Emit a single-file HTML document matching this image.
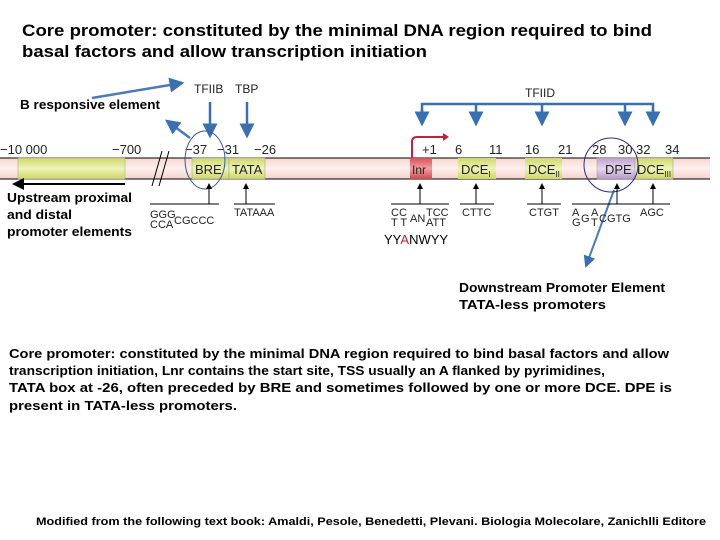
<!DOCTYPE html>
<html><head><meta charset="utf-8"><style>
html,body{margin:0;padding:0;background:#fff;width:720px;height:540px;overflow:hidden}
svg{display:block}
.c{font-family:"Liberation Sans",sans-serif;font-weight:bold;fill:#000}
.h{font-family:"Liberation Sans",sans-serif;fill:#222}
</style></head><body>
<svg width="720" height="540" viewBox="0 0 720 540" xmlns="http://www.w3.org/2000/svg">
<defs>
<linearGradient id="pk" x1="0" y1="0" x2="0" y2="1"><stop offset="0" stop-color="#f6d6d0"/><stop offset=".5" stop-color="#fdf0ec"/><stop offset="1" stop-color="#f4d0ca"/></linearGradient>
<linearGradient id="gr" x1="0" y1="0" x2="0" y2="1"><stop offset="0" stop-color="#cfd86a"/><stop offset=".5" stop-color="#eef3b8"/><stop offset="1" stop-color="#cdd666"/></linearGradient>
<linearGradient id="rd" x1="0" y1="0" x2="0" y2="1"><stop offset="0" stop-color="#d9505a"/><stop offset=".5" stop-color="#f0a0a0"/><stop offset="1" stop-color="#d04850"/></linearGradient>
<linearGradient id="pu" x1="0" y1="0" x2="0" y2="1"><stop offset="0" stop-color="#c0a0d0"/><stop offset=".5" stop-color="#e6d8ee"/><stop offset="1" stop-color="#b898c8"/></linearGradient>
<marker id="ab" markerWidth="6" markerHeight="6" refX="5" refY="3" orient="auto" markerUnits="strokeWidth"><path d="M0,0 L6,3 L0,6 z" fill="#3a6fb0"/></marker>
<marker id="ak" markerWidth="6" markerHeight="6" refX="5" refY="3" orient="auto" markerUnits="strokeWidth"><path d="M0,0 L6,3 L0,6 z" fill="#000"/></marker>
</defs>

<text class="c" x="22" y="36" font-size="17" textLength="630" lengthAdjust="spacingAndGlyphs">Core promoter: constituted by the minimal DNA region required to bind</text>
<text class="c" x="22" y="57" font-size="17" textLength="405" lengthAdjust="spacingAndGlyphs">basal factors and allow transcription initiation</text>

<rect x="0" y="158" width="710" height="21" fill="url(#pk)"/>
<line x1="0" y1="158" x2="710" y2="158" stroke="#000" stroke-width="1"/>
<line x1="0" y1="179" x2="710" y2="179" stroke="#000" stroke-width="1"/>
<rect x="18" y="158" width="107" height="21" fill="url(#gr)" stroke="#999" stroke-width=".5"/>
<line x1="152" y1="186" x2="162" y2="151" stroke="#000"/>
<line x1="159" y1="186" x2="169" y2="151" stroke="#000"/>
<rect x="192" y="158" width="37" height="21" fill="url(#gr)" stroke="#999" stroke-width=".5"/>
<rect x="229" y="158" width="36" height="21" fill="url(#gr)" stroke="#999" stroke-width=".5"/>
<rect x="410" y="158" width="22" height="21" fill="url(#rd)"/>
<rect x="458" y="158" width="38" height="21" fill="url(#gr)"/>
<rect x="525" y="158" width="37" height="21" fill="url(#gr)"/>
<rect x="597" y="158" width="38" height="21" fill="url(#pu)" stroke="#999" stroke-width=".5"/>
<rect x="635" y="158" width="38" height="21" fill="url(#gr)" stroke="#999" stroke-width=".5"/>

<g class="h" font-size="13">
<text x="195" y="174">BRE</text><text x="232" y="174">TATA</text>
<text x="412" y="174" font-size="12">Inr</text>
<text x="461" y="174">DCE<tspan font-size="8" dy="3">I</tspan></text>
<text x="528" y="174">DCE<tspan font-size="8" dy="3">II</tspan></text>
<text x="605" y="174">DPE</text>
<text x="637" y="174">DCE<tspan font-size="8" dy="3">III</tspan></text>
<text x="0" y="154">−10 000</text><text x="112" y="154">−700</text>
<text x="185" y="154">−37</text><text x="217" y="154">−31</text><text x="254" y="154">−26</text>
<text x="422" y="154">+1</text><text x="455" y="154">6</text><text x="489" y="154">11</text>
<text x="525" y="154">16</text><text x="558" y="154">21</text>
<text x="592" y="154">28</text><text x="618" y="154">30</text><text x="636" y="154">32</text><text x="665" y="154">34</text>
<text x="194" y="93" font-size="12">TFIIB</text><text x="235" y="93" font-size="12">TBP</text>
<text x="525" y="97" font-size="12">TFIID</text>
</g>

<path d="M412,158 L412,142 Q412,137 417,137 L444,137" fill="none" stroke="#c8203a" stroke-width="2"/>
<path d="M443,133 L449,137 L443,141 z" fill="#c8203a"/>

<g stroke="#3a6fb0" stroke-width="2.5" fill="none">
<line x1="210" y1="102" x2="210" y2="136" marker-end="url(#ab)"/>
<line x1="247" y1="102" x2="247" y2="136" marker-end="url(#ab)"/>
<polyline points="422,120 422,104 653,104 653,120"/>
</g>
<g stroke="#3a6fb0" stroke-width="2.5">
<line x1="422" y1="110" x2="422" y2="124" marker-end="url(#ab)"/>
<line x1="476" y1="104" x2="476" y2="124" marker-end="url(#ab)"/>
<line x1="542" y1="104" x2="542" y2="124" marker-end="url(#ab)"/>
<line x1="625" y1="104" x2="625" y2="124" marker-end="url(#ab)"/>
<line x1="653" y1="110" x2="653" y2="124" marker-end="url(#ab)"/>
</g>

<g stroke="#4a7ab8" stroke-width="2.5">
<line x1="92" y1="98" x2="182" y2="83" marker-end="url(#ab)"/>
<line x1="190" y1="138" x2="167" y2="121" marker-end="url(#ab)"/>
<line x1="614" y1="190" x2="586" y2="266" stroke-width="2" marker-end="url(#ab)"/>
</g>
<ellipse cx="205" cy="160" rx="20" ry="29" fill="none" stroke="#3a5a90" stroke-width="1"/>
<circle cx="611" cy="165" r="27" fill="none" stroke="#2a2a90" stroke-width="1"/>

<line x1="125" y1="184" x2="14" y2="184" stroke="#000" stroke-width="2" marker-end="url(#ak)"/>

<g stroke="#000" stroke-width="1">
<line x1="150" y1="204" x2="219" y2="204"/><line x1="209" y1="204" x2="209" y2="184" marker-end="url(#ak)"/>
<line x1="234" y1="204" x2="275" y2="204"/><line x1="246" y1="204" x2="246" y2="184" marker-end="url(#ak)"/>
<line x1="391" y1="204" x2="449" y2="204"/><line x1="420" y1="204" x2="420" y2="184" marker-end="url(#ak)"/>
<line x1="460" y1="204" x2="494" y2="204"/><line x1="476" y1="204" x2="476" y2="184" marker-end="url(#ak)"/>
<line x1="527" y1="204" x2="561" y2="204"/><line x1="542" y1="204" x2="542" y2="184" marker-end="url(#ak)"/>
<line x1="572" y1="204" x2="641" y2="204"/><line x1="617" y1="204" x2="617" y2="184" marker-end="url(#ak)"/>
<line x1="636" y1="204" x2="670" y2="204"/><line x1="653" y1="204" x2="653" y2="184" marker-end="url(#ak)"/>
</g>
<g class="h" font-size="11">
<text x="150" y="218">GGG</text><text x="150" y="228">CCA</text><text x="174" y="224">CGCCC</text>
<text x="234" y="216">TATAAA</text>
<text x="391" y="216">CC</text><text x="391" y="226">T T</text><text x="410" y="222">AN</text><text x="426" y="216">TCC</text><text x="426" y="226">ATT</text>
<text x="462" y="216">CTTC</text><text x="529" y="216">CTGT</text>
<text x="572" y="216">A</text><text x="572" y="226">G</text><text x="581" y="222">G</text><text x="591" y="216">A</text><text x="591" y="226">T</text><text x="599" y="222">CGTG</text>
<text x="640" y="216">AGC</text>
<text x="384" y="244" font-size="13" fill="#000">YY<tspan fill="#d02020">A</tspan>NWYY</text>
</g>

<g class="c" font-size="13">
<text x="20" y="109" textLength="140" lengthAdjust="spacingAndGlyphs">B responsive element</text>
<text x="7" y="202" textLength="125" lengthAdjust="spacingAndGlyphs">Upstream proximal</text>
<text x="7" y="219" textLength="65" lengthAdjust="spacingAndGlyphs">and distal</text>
<text x="7" y="236" textLength="125" lengthAdjust="spacingAndGlyphs">promoter elements</text>
<text x="459" y="292" textLength="206" lengthAdjust="spacingAndGlyphs">Downstream Promoter Element</text>
<text x="459" y="309" textLength="147" lengthAdjust="spacingAndGlyphs">TATA-less promoters</text>
<text x="9" y="358" textLength="660" lengthAdjust="spacingAndGlyphs">Core promoter: constituted by the minimal DNA region required to bind basal factors and allow</text>
<text x="9" y="375" textLength="596" lengthAdjust="spacingAndGlyphs">transcription initiation, Lnr contains the start site, TSS usually an A flanked by pyrimidines,</text>
<text x="9" y="392" textLength="663" lengthAdjust="spacingAndGlyphs">TATA box at -26, often preceded by BRE and sometimes followed by one or more DCE.  DPE is</text>
<text x="9" y="410" textLength="228" lengthAdjust="spacingAndGlyphs">present in TATA-less promoters.</text>
<text x="36" y="525" font-size="11" textLength="670" lengthAdjust="spacingAndGlyphs">Modified from the following text book: Amaldi, Pesole, Benedetti, Plevani. Biologia Molecolare, Zanichlli Editore</text>
</g>
</svg>
</body></html>
